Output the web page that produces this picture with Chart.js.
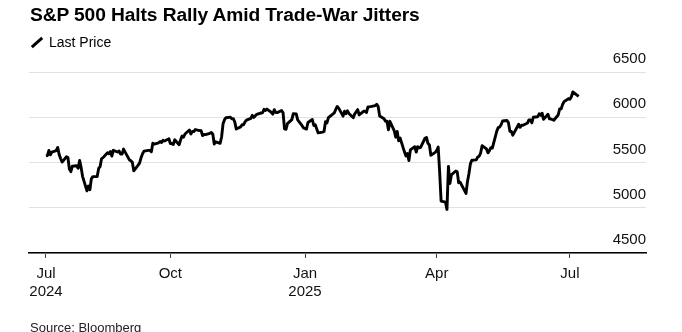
<!DOCTYPE html>
<html>
<head>
<meta charset="utf-8">
<script src="https://cdn.jsdelivr.net/npm/chart.js@4.4.0/dist/chart.umd.min.js"></script>
<style>
  body { margin: 0; background: #fff; }
  #wrap { position: relative; width: 682px; height: 332px; overflow: hidden; font-family: "Liberation Sans", Arial, sans-serif; color: #000; }
  #title { position: absolute; left: 30px; top: 4px; font-size: 19.2px; font-weight: bold; white-space: nowrap; letter-spacing: -0.1px; }
  #legend { position: absolute; left: 30px; top: 34px; font-size: 14px; white-space: nowrap; }
  #legend .icon { display: inline-block; width: 14px; height: 3px; background: #000; transform: rotate(-42deg); vertical-align: middle; margin-right: 5px; position: relative; top: -1px; }
  #source { position: absolute; left: 30px; top: 320px; font-size: 13px; color: #222; white-space: nowrap; }
  canvas { position: absolute; left: 0; top: 0; }
</style>
</head>
<body>
<div id="wrap">
  <canvas id="chart" width="682" height="332"></canvas>
  <div id="title">S&amp;P 500 Halts Rally Amid Trade-War Jitters</div>
  <div id="legend"><span class="icon"></span>Last Price</div>
  <div id="source">Source: Bloomberg</div>
</div>
<script>
// daily closes, Jul 2024 - Jul 2025
var dates = [
  '2024-07-08', '2024-07-09', '2024-07-10', '2024-07-11', '2024-07-12', '2024-07-15', '2024-07-16', '2024-07-17', '2024-07-18', '2024-07-19',
  '2024-07-22', '2024-07-23', '2024-07-24', '2024-07-25', '2024-07-26', '2024-07-29', '2024-07-30', '2024-07-31',
  '2024-08-01', '2024-08-02', '2024-08-05', '2024-08-06', '2024-08-07', '2024-08-08', '2024-08-09', '2024-08-12', '2024-08-13', '2024-08-14',
  '2024-08-15', '2024-08-16', '2024-08-19', '2024-08-20', '2024-08-21', '2024-08-22', '2024-08-23', '2024-08-26', '2024-08-27', '2024-08-28',
  '2024-08-29', '2024-08-30',
  '2024-09-03', '2024-09-04', '2024-09-05', '2024-09-06', '2024-09-09', '2024-09-10', '2024-09-11', '2024-09-12', '2024-09-13', '2024-09-16',
  '2024-09-17', '2024-09-18', '2024-09-19', '2024-09-20', '2024-09-23', '2024-09-24', '2024-09-25', '2024-09-26', '2024-09-27', '2024-09-30',
  '2024-10-01', '2024-10-02', '2024-10-03', '2024-10-04', '2024-10-07', '2024-10-08', '2024-10-09', '2024-10-10', '2024-10-11', '2024-10-14',
  '2024-10-15', '2024-10-16', '2024-10-17', '2024-10-18', '2024-10-21', '2024-10-22', '2024-10-23', '2024-10-24', '2024-10-25', '2024-10-28',
  '2024-10-29', '2024-10-30', '2024-10-31',
  '2024-11-01', '2024-11-04', '2024-11-05', '2024-11-06', '2024-11-07', '2024-11-08', '2024-11-11', '2024-11-12', '2024-11-13', '2024-11-14',
  '2024-11-15', '2024-11-18', '2024-11-19', '2024-11-20', '2024-11-21', '2024-11-22', '2024-11-25', '2024-11-26', '2024-11-27', '2024-11-29',
  '2024-12-02', '2024-12-03', '2024-12-04', '2024-12-05', '2024-12-06', '2024-12-09', '2024-12-10', '2024-12-11', '2024-12-12', '2024-12-13',
  '2024-12-16', '2024-12-17', '2024-12-18', '2024-12-19', '2024-12-20', '2024-12-23', '2024-12-24', '2024-12-26', '2024-12-27', '2024-12-30',
  '2024-12-31',
  '2025-01-02', '2025-01-03', '2025-01-06', '2025-01-07', '2025-01-08', '2025-01-10', '2025-01-13', '2025-01-14', '2025-01-15', '2025-01-16',
  '2025-01-17', '2025-01-21', '2025-01-22', '2025-01-23', '2025-01-24', '2025-01-27', '2025-01-28', '2025-01-29', '2025-01-30', '2025-01-31',
  '2025-02-03', '2025-02-04', '2025-02-05', '2025-02-06', '2025-02-07', '2025-02-10', '2025-02-11', '2025-02-12', '2025-02-13', '2025-02-14',
  '2025-02-18', '2025-02-19', '2025-02-20', '2025-02-21', '2025-02-24', '2025-02-25', '2025-02-26', '2025-02-27', '2025-02-28',
  '2025-03-03', '2025-03-04', '2025-03-05', '2025-03-06', '2025-03-07', '2025-03-10', '2025-03-11', '2025-03-12', '2025-03-13', '2025-03-14',
  '2025-03-17', '2025-03-18', '2025-03-19', '2025-03-20', '2025-03-21', '2025-03-24', '2025-03-25', '2025-03-26', '2025-03-27', '2025-03-28',
  '2025-03-31',
  '2025-04-01', '2025-04-02', '2025-04-03', '2025-04-04', '2025-04-07', '2025-04-08', '2025-04-09', '2025-04-10', '2025-04-11', '2025-04-14',
  '2025-04-15', '2025-04-16', '2025-04-17', '2025-04-21', '2025-04-22', '2025-04-23', '2025-04-24', '2025-04-25', '2025-04-28', '2025-04-29',
  '2025-04-30',
  '2025-05-01', '2025-05-02', '2025-05-05', '2025-05-06', '2025-05-07', '2025-05-08', '2025-05-09', '2025-05-12', '2025-05-13', '2025-05-14',
  '2025-05-15', '2025-05-16', '2025-05-19', '2025-05-20', '2025-05-21', '2025-05-22', '2025-05-23', '2025-05-27', '2025-05-28', '2025-05-29',
  '2025-05-30',
  '2025-06-02', '2025-06-03', '2025-06-04', '2025-06-05', '2025-06-06', '2025-06-09', '2025-06-10', '2025-06-11', '2025-06-12', '2025-06-13',
  '2025-06-16', '2025-06-17', '2025-06-18', '2025-06-20', '2025-06-23', '2025-06-24', '2025-06-25', '2025-06-26', '2025-06-27', '2025-06-30',
  '2025-07-01', '2025-07-02', '2025-07-03', '2025-07-07'
]

var closes = [
  5572, 5577, 5633, 5585, 5615, 5631, 5667, 5589, 5545, 5505,
  5564, 5555, 5427, 5399, 5459, 5464, 5436, 5522,
  5446, 5347, 5186, 5240, 5199, 5319, 5344, 5344, 5434, 5455,
  5543, 5554, 5608, 5597, 5621, 5571, 5635, 5616, 5626, 5592,
  5592, 5648,
  5529, 5520, 5503, 5408, 5471, 5496, 5554, 5596, 5626, 5634,
  5634, 5618, 5713, 5703, 5718, 5732, 5722, 5745, 5738, 5762,
  5709, 5710, 5699, 5751, 5696, 5751, 5792, 5780, 5815, 5859,
  5815, 5843, 5841, 5864, 5853, 5851, 5797, 5809, 5808, 5823,
  5832, 5813, 5705,
  5729, 5712, 5782, 5929, 5973, 5995, 6001, 5984, 5985, 5949,
  5870, 5893, 5917, 5917, 5949, 5969, 5987, 6021, 5998, 6032,
  6047, 6050, 6087, 6075, 6090, 6053, 6034, 6084, 6051, 6051,
  6074, 6050, 5872, 5867, 5930, 5974, 6040, 6037, 5970, 5907,
  5882,
  5869, 5942, 5975, 5909, 5918, 5827, 5836, 5843, 5950, 5937,
  5997, 6049, 6086, 6119, 6101, 6012, 6067, 6039, 6071, 6041,
  5994, 6038, 6061, 6084, 6026, 6066, 6068, 6052, 6115, 6115,
  6129, 6144, 6118, 6013, 5983, 5955, 5956, 5861, 5955,
  5850, 5779, 5843, 5739, 5770, 5615, 5572, 5599, 5522, 5639,
  5675, 5615, 5675, 5663, 5668, 5768, 5777, 5712, 5693, 5581,
  5612,
  5633, 5671, 5397, 5074, 5062, 4982, 5457, 5268, 5363, 5406,
  5397, 5276, 5283, 5158, 5288, 5376, 5485, 5525, 5529, 5561,
  5569,
  5604, 5686, 5650, 5607, 5631, 5664, 5660, 5844, 5886, 5892,
  5917, 5958, 5964, 5940, 5845, 5842, 5802, 5922, 5889, 5912,
  5912,
  5936, 5970, 5971, 5939, 6000, 6006, 6038, 6022, 6045, 5977,
  6033, 5983, 5981, 5967, 6025, 6092, 6092, 6141, 6173, 6205,
  6198, 6227, 6279, 6230
]

var tickDates = ['2024-07-08', '2024-10-01', '2025-01-01', '2025-04-01', '2025-07-01']
var tickLabels = [['Jul', '2024'], ['Oct'], ['Jan', '2025'], ['Apr'], ['Jul']]
var yTicks = [4500, 5000, 5500, 6000, 6500]

// x is days since 2024-07-01
var origin = Date.UTC(2024, 6, 1)
function toDay (s) {
  var p = s.split('-')
  return (Date.UTC(+p[0], +p[1] - 1, +p[2]) - origin) / 86400000
}

var points = dates.map(function (d, i) { return { x: toDay(d), y: closes[i] } })
var tickDays = tickDates.map(toDay)

new Chart(document.getElementById('chart'), {
  type: 'line',
  data: {
    datasets: [{
      label: 'Last Price',
      data: points,
      borderColor: '#000',
      borderWidth: 2.9,
      borderJoinStyle: 'round',
      pointRadius: 0,
      tension: 0
    }]
  },
  options: {
    responsive: false,
    animation: false,
    devicePixelRatio: 1,
    layout: { padding: { left: 29, top: 72, right: 0, bottom: 0 } },
    plugins: { legend: { display: false }, tooltip: { enabled: false } },
    scales: {
      x: {
        type: 'linear',
        min: -4.6,
        max: 417,
        afterFit: function (s) { s.height = 79 },
        afterBuildTicks: function (s) { s.ticks = tickDays.map(function (v) { return { value: v } }) },
        grid: { drawOnChartArea: false, drawTicks: true, tickLength: 5, color: '#444', lineWidth: 1 },
        border: { display: true, color: '#000', width: 1.5 },
        ticks: {
          autoSkip: false,
          maxRotation: 0,
          padding: 7,
          color: '#111',
          font: { family: 'Liberation Sans', size: 15, lineHeight: 1.2 },
          callback: function (v) {
            var i = tickDays.indexOf(v)
            return i >= 0 ? tickLabels[i] : ''
          }
        }
      },
      y: {
        position: 'right',
        min: 4500,
        max: 6500,
        afterFit: function (s) { s.width = 36 },
        afterBuildTicks: function (s) { s.ticks = yTicks.map(function (v) { return { value: v } }) },
        grid: { drawTicks: false, color: '#e2e2e2', lineWidth: 1 },
        border: { display: false },
        ticks: {
          mirror: true,
          padding: 0,
          labelOffset: -13,
          color: '#111',
          font: { family: 'Liberation Sans', size: 15 },
          callback: function (v) { return String(v) }
        }
      }
    }
  }
})
</script>
</body>
</html>
